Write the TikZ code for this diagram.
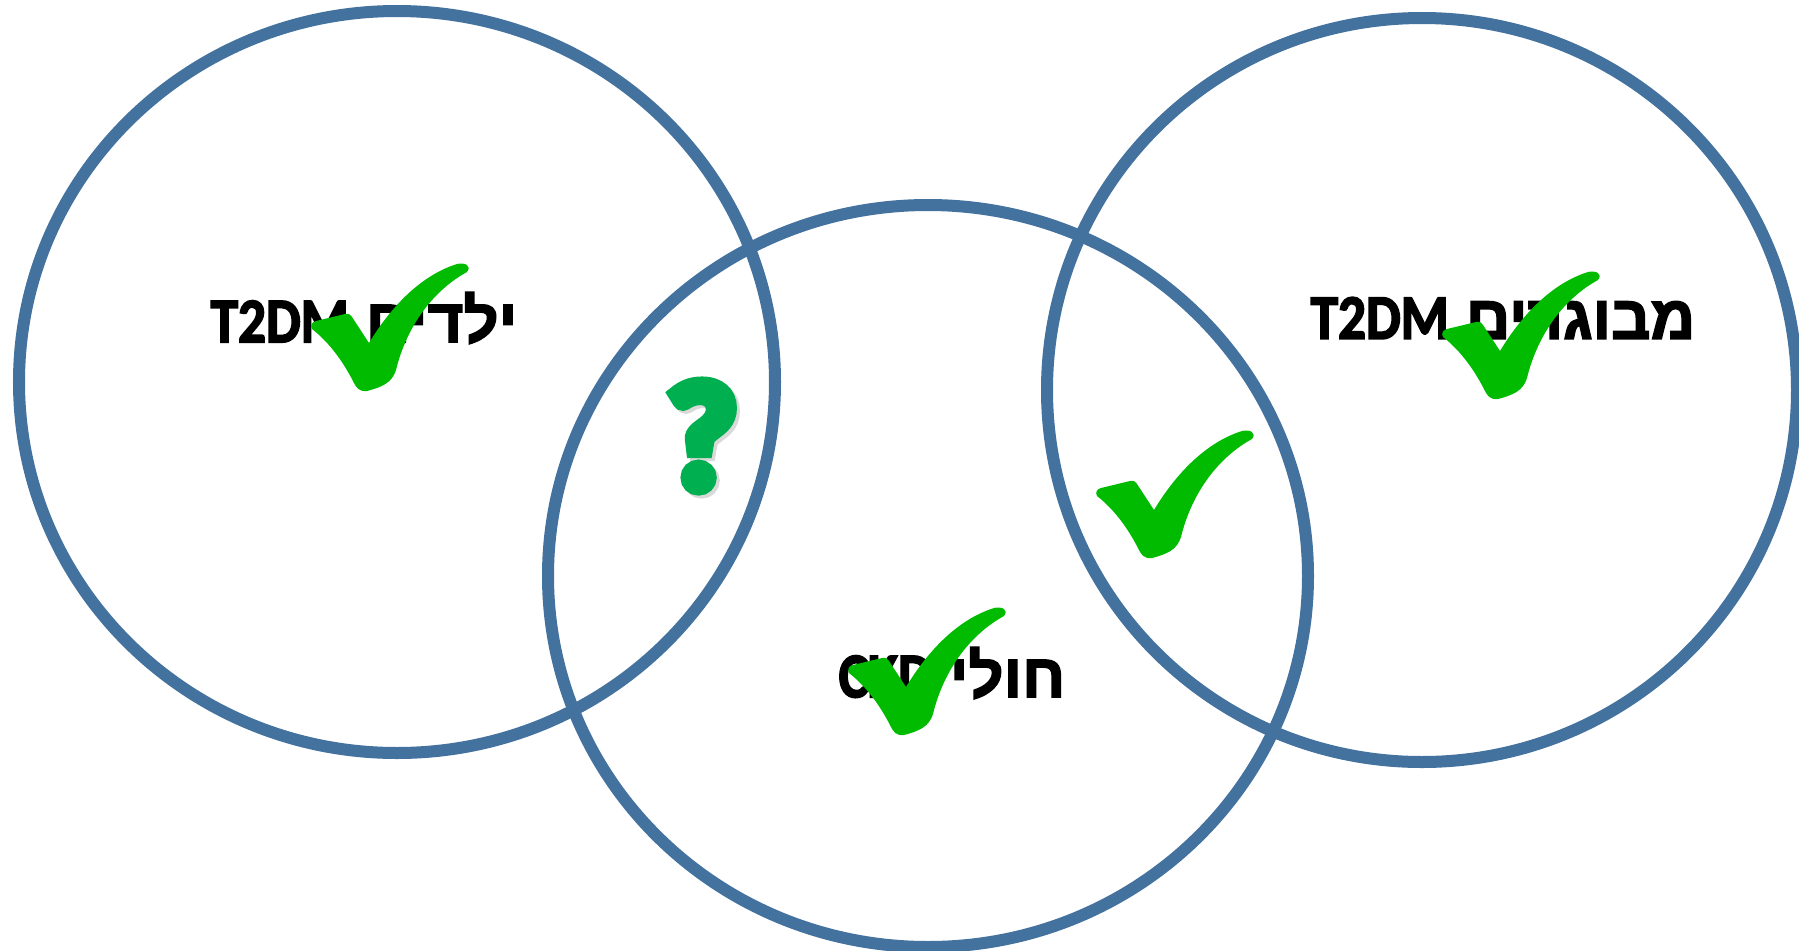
\documentclass[tikz,border=0pt]{standalone}
\usepackage{fontspec}
\usepackage{graphicx}
\setmainfont{Liberation Sans}
\newfontfamily\hebfont[Script=Hebrew, FakeBold=2.5]{Liberation Sans Bold}
\newfontfamily\latfont[FakeBold=3]{Carlito Bold}
\newfontfamily\qfont[FakeBold=9]{Carlito Bold}
\TeXXeTstate=1
\usetikzlibrary{positioning}

\definecolor{ringblue}{HTML}{44729E}
\definecolor{tickgreen}{HTML}{00BB00}
\definecolor{askgreen}{HTML}{00AF50}

\newcommand{\latin}[1]{\beginL\scalebox{0.87}[1]{\latfont\fontsize{18}{20}\selectfont #1}\endL}

\tikzset{
  checkmark/.pic={
    \fill[tickgreen] (0,-4) .. controls (-2,0) and (0,3) .. (4,4)
      -- (33,11) .. controls (37,12) and (39,10) .. (40,8)
      -- (57,-18)
      .. controls (80,20) and (110,50) .. (145,61)
      .. controls (153,63) and (160,59) .. (155,53)
      .. controls (122,35) and (95,0) .. (84,-45)
      .. controls (80,-58) and (70,-62) .. (55,-66)
      .. controls (47,-67) and (44,-62) .. (42,-58)
      .. controls (32,-38) and (18,-18) .. (0,-4) -- cycle;
  }
}

\begin{document}
\begin{tikzpicture}[x=0.01cm, y=0.01cm,
    ring/.style = {draw=ringblue, line width=0.12cm},
    group/.style = {font=\hebfont\fontsize{17.5}{19}\selectfont, inner sep=0pt},
    ask/.style = {font=\qfont\fontsize{43}{43}\selectfont, inner sep=0pt}
  ]
  \useasboundingbox (0,0) rectangle (1799,950);

  % three groups
  \draw[ring] (397,568) ellipse [x radius=378, y radius=371];
  \draw[ring] (928,374) ellipse [x radius=380, y radius=371];
  \draw[ring] (1422,560) ellipse [x radius=375, y radius=372];

  % labels
  \node (kids) [group] at (364,632) {\beginR ילדים \latin{T2DM}\endR};
  \node (adults) [group] at (1503,632) {\beginR מבוגרים \latin{T2DM}\endR};
  \node (ckd) [group] at (952,277) {\beginR חולי \latin{CKD}\endR};

  % question mark with shadow
  \node (askshadow) [ask, text=gray!30] at (705,511) {?};
  \node (ask) [ask, text=askgreen] at (702,514) {?};

  % ticks
  \pic at (312,625) {checkmark};
  \pic at (1443,617) {checkmark};
  \pic at (849,281) {checkmark};
  \pic at (1097,458) {checkmark};
\end{tikzpicture}
\end{document}
